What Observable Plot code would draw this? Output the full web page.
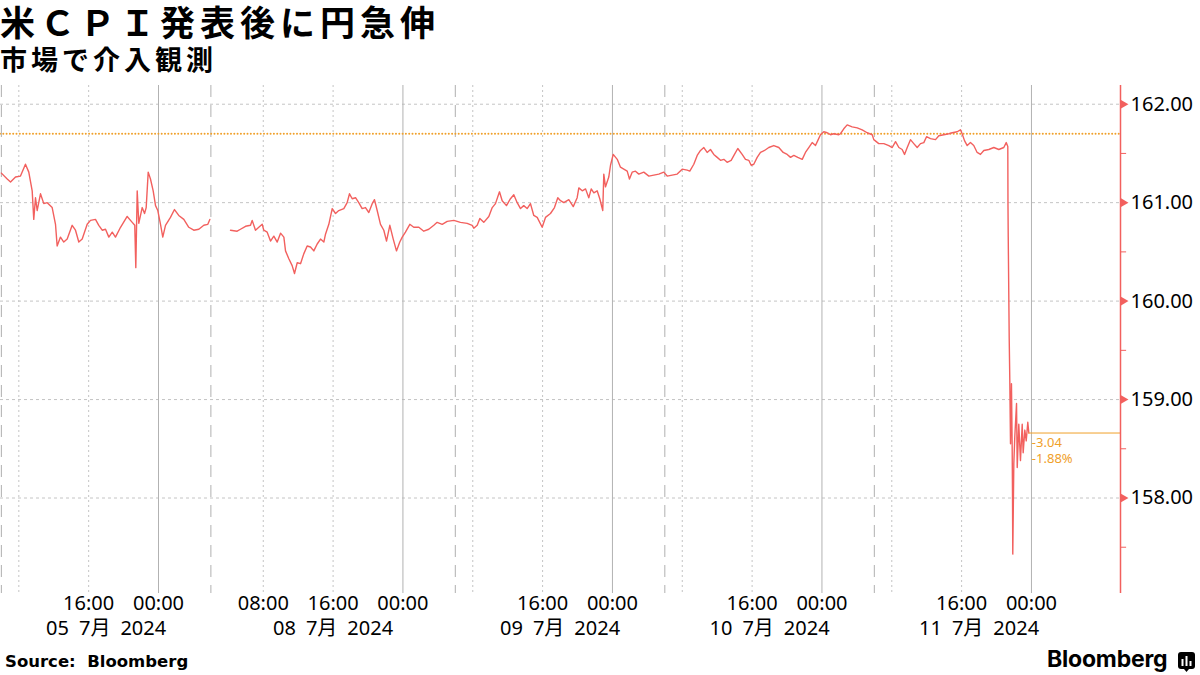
<!DOCTYPE html>
<html><head><meta charset="utf-8">
<script src="https://cdn.jsdelivr.net/npm/d3@7"></script>
<script src="https://cdn.jsdelivr.net/npm/@observablehq/plot@0.6"></script>
<style>
body{margin:0;background:#fff;}
#wrap{position:relative;width:1200px;height:675px;overflow:hidden;background:#fff;font-family:"Noto Sans CJK JP","Noto Sans",sans-serif;color:#000;}
#title{position:absolute;left:0;top:3px;font-size:35px;font-weight:700;letter-spacing:5px;line-height:36px;white-space:nowrap;}
#subtitle{position:absolute;left:0;top:45px;font-size:27px;font-weight:700;letter-spacing:4px;line-height:28px;white-space:nowrap;}
#chart{position:absolute;left:0;top:80px;}
#source{position:absolute;left:5px;top:652px;font-family:"DejaVu Sans",sans-serif;font-weight:700;font-size:16.5px;white-space:pre;}
#logo{position:absolute;left:1047px;top:645px;font-family:Inter,"Liberation Sans",sans-serif;font-weight:700;font-size:23px;letter-spacing:-0.2px;}
#icon{position:absolute;left:1178px;top:652px;}
</style></head>
<body><div id="wrap">
<div id="title">米ＣＰＩ発表後に円急伸</div>
<div id="subtitle">市場で介入観測</div>
<div id="chart"></div>
<div id="source">Source:  Bloomberg</div>
<div id="logo">Bloomberg</div>
<svg id="icon" width="17" height="20" viewBox="0 0 17 20"><rect x="0" y="0" width="17" height="17" rx="3" fill="#000"/><path d="M6 17 L8.5 20 L11 17 Z" fill="#000"/><rect x="3.5" y="7" width="2" height="7" fill="#fff"/><rect x="7.5" y="4" width="2" height="10" fill="#fff"/><rect x="11.5" y="9" width="2" height="5" fill="#fff"/></svg>
</div>
<script>
// Trading-hour axis: hours since 5 Jul 2024 06:00 (JST), weekend removed
const hours = [0.0,0.67,1.05,1.62,2.19,2.76,3.14,3.53,3.71,3.91,4.10,4.48,4.86,5.25,5.82,6.20,6.39,6.77,7.15,7.54,8.11,8.49,8.87,9.26,9.83,10.21,10.78,11.16,11.55,11.93,12.31,12.70,13.07,13.65,14.41,14.99,15.28,15.40,15.56,15.74,16.13,16.40,16.59,16.82,17.08,17.39,17.66,17.92,18.23,18.49,18.80,19.37,19.83,20.32,20.90,21.47,22.04,22.62,23.19,23.65,23.88,24.5,
26.25,27.01,27.39,27.97,28.54,28.73,29.11,29.49,29.88,30.06,30.45,30.83,31.21,31.60,31.98,32.36,32.55,32.93,33.31,33.58,33.89,34.27,34.64,35.03,35.41,35.79,36.18,36.56,36.94,37.13,37.51,37.90,38.28,38.65,39.23,39.61,39.88,40.19,40.57,40.94,41.33,41.71,42.09,42.48,42.74,43.05,43.43,43.81,44.12,44.50,44.89,45.26,45.64,45.92,46.29,46.79,47.24,47.82,48.39,48.96,49.54,49.92,50.50,51.07,51.83,52.59,53.36,53.93,54.12,54.51,54.81,55.26,55.84,56.23,56.60,57.06,57.37,57.86,58.32,58.70,59.09,59.47,59.84,60.23,60.61,60.99,61.38,61.95,62.33,62.90,63.36,63.74,64.05,64.43,65.00,65.51,65.96,66.15,66.54,66.92,67.29,67.57,67.87,68.25,68.55,68.89,69.01,69.20,69.58,69.78,70.09,70.55,70.92,71.30,71.69,71.95,72.26,72.64,73.02,73.59,74.17,74.74,75.31,75.88,76.27,76.84,77.42,77.99,78.56,78.86,79.32,79.71,80.09,80.47,80.85,81.23,81.61,82.00,82.38,82.76,83.14,83.60,83.98,84.36,84.86,85.24,85.62,85.89,86.19,86.58,86.96,87.42,87.91,88.48,89.06,89.56,90.02,90.40,90.78,91.23,91.74,92.11,92.49,92.88,93.26,93.52,93.83,94.21,94.60,94.98,95.36,95.93,96.12,96.50,96.89,97.46,98.04,98.61,99.18,99.76,99.94,100.51,101.09,101.66,102.05,102.43,102.81,103.19,103.46,103.77,104.14,104.52,104.91,105.29,105.67,105.98,106.43,107.01,107.39,107.96,108.53,108.92,109.49,109.87,110.06,110.33,110.64,111.01,111.39,111.78,112.16,112.54,113.11,113.69,114.26,114.83,115.11,115.29,115.31,115.34,115.45,115.52,115.60,115.71,115.79,115.83,115.86,115.98,116.09,116.29,116.37,116.55,116.74,116.94,117.05,117.24,117.40,117.58,117.70];
const usdjpy = [161.30,161.24,161.21,161.26,161.27,161.39,161.31,161.12,160.83,161.05,160.92,161.09,160.99,161.00,160.95,160.78,160.56,160.65,160.60,160.63,160.77,160.72,160.60,160.63,160.78,160.82,160.83,160.77,160.72,160.73,160.65,160.70,160.65,160.75,160.86,160.80,160.77,160.34,161.12,160.79,160.95,160.89,160.95,161.31,161.24,161.12,160.97,160.92,160.78,160.65,160.77,160.85,160.93,160.87,160.83,160.75,160.72,160.73,160.77,160.78,160.83,null,
160.72,160.71,160.73,160.76,160.77,160.82,160.72,160.75,160.78,160.72,160.70,160.61,160.66,160.60,160.69,160.65,160.51,160.43,160.36,160.28,160.39,160.38,160.48,160.56,160.55,160.51,160.58,160.63,160.60,160.68,160.78,160.94,160.89,160.92,160.94,161.00,161.09,161.04,161.05,161.00,160.94,160.95,160.90,160.99,161.03,160.92,160.78,160.72,160.61,160.77,160.63,160.51,160.60,160.65,160.70,160.78,160.75,160.75,160.71,160.73,160.77,160.80,160.78,160.81,160.82,160.80,160.79,160.77,160.74,160.77,160.84,160.80,160.86,160.95,160.99,161.11,161.02,160.97,161.04,161.08,161.00,160.94,160.97,160.94,160.99,160.87,160.85,160.75,160.85,160.89,160.95,161.05,161.02,161.00,161.03,160.96,161.05,161.15,161.12,161.14,161.05,161.14,161.10,161.12,161.04,160.92,161.29,161.16,161.26,161.38,161.49,161.44,161.36,161.34,161.32,161.24,161.31,161.32,161.29,161.31,161.27,161.28,161.29,161.31,161.27,161.28,161.29,161.34,161.33,161.32,161.39,161.48,161.53,161.56,161.51,161.54,161.49,161.46,161.43,161.44,161.41,161.43,161.49,161.55,161.49,161.44,161.43,161.38,161.39,161.46,161.51,161.53,161.56,161.58,161.56,161.51,161.49,161.46,161.48,161.46,161.44,161.51,161.56,161.61,161.58,161.63,161.69,161.72,161.71,161.69,161.70,161.69,161.70,161.75,161.79,161.77,161.76,161.74,161.71,161.69,161.64,161.60,161.60,161.58,161.56,161.62,161.56,161.54,161.49,161.56,161.64,161.60,161.56,161.60,161.61,161.67,161.65,161.64,161.68,161.69,161.70,161.71,161.72,161.74,161.70,161.63,161.58,161.61,161.58,161.51,161.49,161.53,161.54,161.56,161.54,161.56,161.61,161.57,160.99,160.65,159.63,159.19,158.55,159.16,158.52,158.01,157.43,158.35,158.62,158.96,158.31,158.75,158.38,158.75,158.46,158.69,158.58,158.77,158.66];

const refLevel = 161.70;     // level before CPI (dotted)
const lastLevel = 158.66;    // latest
const changeLabels = ["-3.04", "-1.88%"];

const yTicks = [158, 159, 160, 161, 162];
const yMinorTicks = [157.5, 158.5, 159.5, 160.5, 161.5];
const sessionHours = [0, 24, 52, 76, 100];              // 06:00 session breaks
const midnightHours = [18, 46, 70, 94, 118];             // 00:00
const intradayHours = [2, 10, 30, 38, 54, 62, 78, 86, 102, 110]; // 08:00 / 16:00
const timeTickHours = [10, 18, 30, 38, 46, 62, 70, 86, 94, 110, 118];
const timeTickLabels = ["16:00","00:00","08:00","16:00","00:00","16:00","00:00","16:00","00:00","16:00","00:00"];
const dateLabelHours = [12, 38, 64, 88, 112];
const dateLabels = ["05 7月 2024", "08 7月 2024", "09 7月 2024", "10 7月 2024", "11 7月 2024"];

const xDomain = [-0.1, 128.2];
const yDomain = [157.03, 162.19];

const series = hours.map((t, i) => ({t, p: usdjpy[i]}));
const timeTicks = timeTickHours.map((t, i) => ({t, label: timeTickLabels[i]}));
const dateTicks = dateLabelHours.map((t, i) => ({t, label: dateLabels[i].replace(/ /g, "\u2002")}));
const lastHour = hours[hours.length - 1];
const xMax = xDomain[1];

const RED = "#f2605e";
const ORANGE = "#f0a02a";
const GRID = "#c4c4c4";
const FONT = "'Noto Sans','Noto Sans CJK JP',sans-serif";

const chart = Plot.plot({
  width: 1200, height: 573,
  marginLeft: 0, marginRight: 80, marginTop: 5, marginBottom: 60,
  x: {domain: xDomain, axis: null},
  y: {domain: yDomain, axis: null},
  style: {fontFamily: FONT, background: "transparent", overflow: "visible", color: "#000"},
  marks: [
    Plot.ruleY(yTicks, {stroke: GRID, strokeDasharray: "3,3"}),
    Plot.ruleX(intradayHours, {stroke: GRID, strokeDasharray: "2,3"}),
    Plot.ruleX(midnightHours, {stroke: "#b2b2b2"}),
    Plot.ruleX(sessionHours, {stroke: "#b0b0b0", strokeDasharray: "12,8"}),
    Plot.ruleY([refLevel], {stroke: ORANGE, strokeWidth: 2, strokeDasharray: "0,3.3", strokeLinecap: "round"}),
    Plot.line(series, {x: "t", y: "p", stroke: RED, strokeWidth: 1.4}),
    Plot.ruleY([lastLevel], {x1: () => lastHour, x2: () => xMax, stroke: ORANGE, strokeWidth: 1}),
    Plot.text([changeLabels[0]], {x: () => lastHour, y: () => lastLevel, text: d => d, dx: 3, dy: 10, textAnchor: "start", fill: ORANGE, fontSize: 13}),
    Plot.text([changeLabels[1]], {x: () => lastHour, y: () => lastLevel, text: d => d, dx: 3, dy: 26, textAnchor: "start", fill: ORANGE, fontSize: 13}),
    Plot.ruleX([xMax], {stroke: RED, strokeWidth: 1.5}),
    Plot.ruleY(yMinorTicks, {x1: () => xMax, x2: () => xMax + 0.7, stroke: RED}),
    Plot.dot(yTicks, {x: () => xMax, y: d => d, symbol: "triangle", rotate: 90, r: 3.2, fill: RED, stroke: "none", dx: 3}),
    Plot.axisY(yTicks, {anchor: "right", label: null, tickFormat: d => d.toFixed(2), tickSize: 0, tickPadding: 10, fontSize: 20, fill: "#000"}),
    Plot.text(timeTicks, {x: "t", text: "label", frameAnchor: "bottom", dy: 16, fontSize: 20, fill: "#000"}),
    Plot.text(dateTicks, {x: "t", text: "label", frameAnchor: "bottom", dy: 41, fontSize: 20, fill: "#000"})
  ]
});
document.getElementById("chart").appendChild(chart);
</script>
</body></html>
